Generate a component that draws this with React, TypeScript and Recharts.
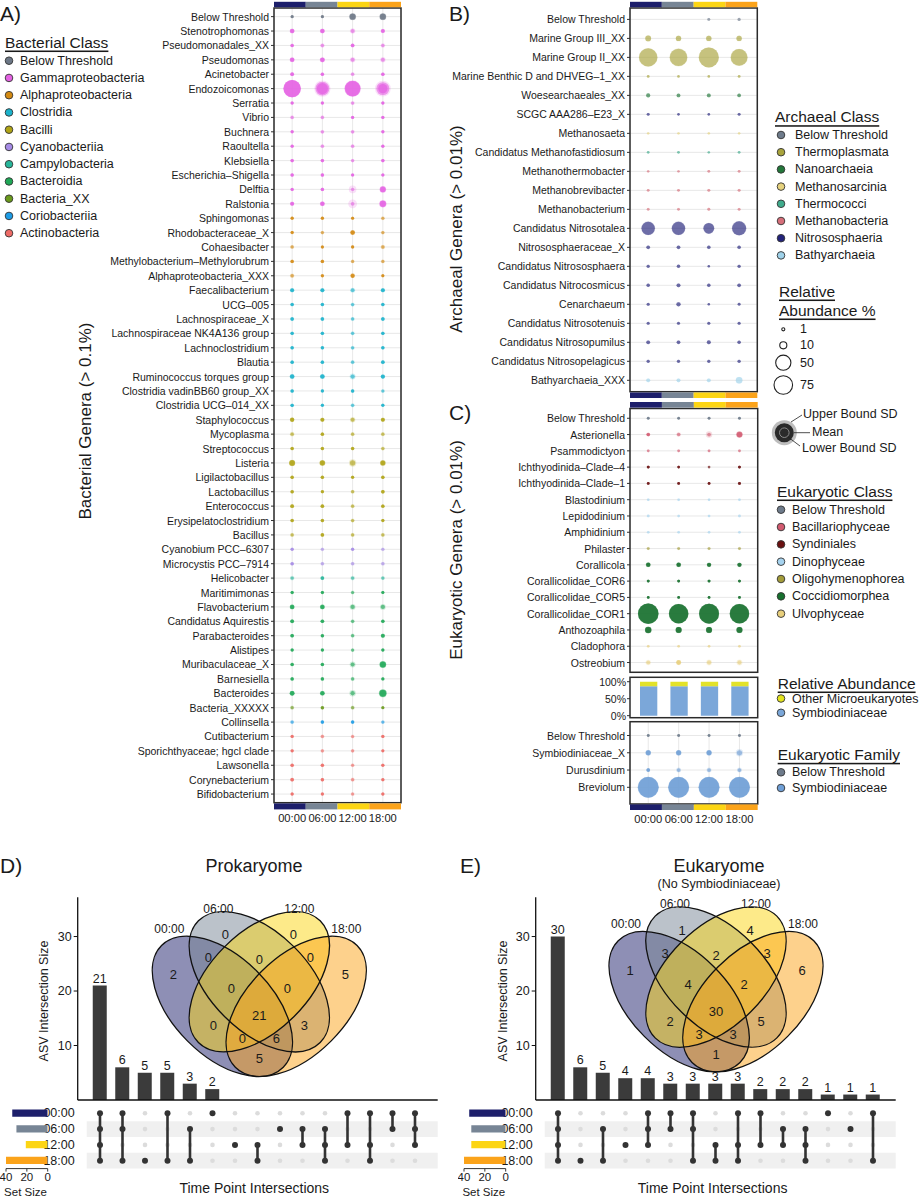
import React from "react";
import {
  ScatterChart, Scatter, XAxis, YAxis, ZAxis, CartesianGrid,
  BarChart, Bar, LabelList, Cell, ReferenceArea,
} from "recharts";

const FONT = "'Liberation Sans', Arial, Helvetica, sans-serif";
const INK = "#1a1a1a";

const TIMES = ["00:00", "06:00", "12:00", "18:00"];
const TIME_COLORS = ["#1d1f6b", "#778595", "#fcd514", "#fba31a"];

// ---- A) bacterial genera, mean and sd of relative abundance per time point
const BAC_GENERA = [
  "Below Threshold", "Stenotrophomonas", "Pseudomonadales_XX", "Pseudomonas", "Acinetobacter",
  "Endozoicomonas", "Serratia", "Vibrio", "Buchnera", "Raoultella", "Klebsiella",
  "Escherichia–Shigella", "Delftia", "Ralstonia", "Sphingomonas", "Rhodobacteraceae_X",
  "Cohaesibacter", "Methylobacterium–Methylorubrum", "Alphaproteobacteria_XXX",
  "Faecalibacterium", "UCG–005", "Lachnospiraceae_X", "Lachnospiraceae NK4A136 group",
  "Lachnoclostridium", "Blautia", "Ruminococcus torques group", "Clostridia vadinBB60 group_XX",
  "Clostridia UCG–014_XX", "Staphylococcus", "Mycoplasma", "Streptococcus", "Listeria",
  "Ligilactobacillus", "Lactobacillus", "Enterococcus", "Erysipelatoclostridium", "Bacillus",
  "Cyanobium PCC–6307", "Microcystis PCC–7914", "Helicobacter", "Maritimimonas",
  "Flavobacterium", "Candidatus Aquirestis", "Parabacteroides", "Alistipes",
  "Muribaculaceae_X", "Barnesiella", "Bacteroides", "Bacteria_XXXXX", "Collinsella",
  "Cutibacterium", "Sporichthyaceae; hgcl clade", "Lawsonella", "Corynebacterium", "Bifidobacterium",
];
const BAC_CLASSES = [
  "Below Threshold", "Gammaproteobacteria", "Alphaproteobacteria", "Clostridia", "Bacilli",
  "Cyanobacteriia", "Campylobacteria", "Bacteroidia", "Bacteria_XX", "Coriobacteriia", "Actinobacteria",
];
const BAC_COLORS = [
  "#6c7786", "#e462e3", "#d48a12", "#1bb3cc", "#b0a415", "#a68be6",
  "#27b69a", "#1fa857", "#6a9a1c", "#1d9ce6", "#ee6b66",
];
const BAC_CLASS_OF = [
  0, 1, 1, 1, 1, 1, 1, 1, 1, 1, 1, 1, 1, 1, 2, 2, 2, 2, 2, 3, 3, 3, 3, 3, 3, 3, 3, 3,
  4, 4, 4, 4, 4, 4, 4, 4, 4, 5, 5, 6, 7, 7, 7, 7, 7, 7, 7, 7, 8, 9, 10, 10, 10, 10, 10,
];
const BAC_MEAN = [
  [1, 1, 8, 8], [3.5, 3.5, 2.5, 2.5], [1.5, 1.5, 2, 1.5], [3.5, 4, 2.5, 2.5], [2, 1.5, 1.2, 1.5],
  [66, 42, 55, 36], [1.2, 1.2, 1.2, 1.2], [1.2, 1.2, 1.2, 1.2], [1.2, 1.2, 1.2, 1.2], [1.2, 1.2, 1.2, 1.2],
  [1.5, 1.5, 1, 1.5], [1.5, 1.5, 1.2, 1.2], [1.2, 1.5, 1.5, 7], [2.5, 3.5, 2, 9], [1.2, 1.2, 1, 1],
  [1.2, 1, 3.5, 1], [1.2, 1, 1.2, 1.5], [1.5, 1.5, 1, 1], [1.5, 1.2, 3, 1], [2.5, 2.5, 2, 2.5],
  [1.5, 1.5, 1.2, 1.5], [1.8, 1.8, 1.2, 1.8], [1.5, 1.5, 1.2, 1.5], [1.5, 1.5, 1.2, 1.5], [1.5, 1.5, 1.2, 1.8],
  [3.5, 3.5, 3, 2.8], [1.5, 1.2, 1.5, 1], [1.5, 1.2, 1.2, 1.2], [3, 2.5, 2.5, 2.5], [1.5, 1.5, 1.2, 1.2],
  [1.5, 1.5, 1.5, 1.2], [6.5, 5.5, 5, 5], [1.5, 1.5, 1.2, 1.5], [1.5, 1.2, 1.2, 1.8], [2, 1.8, 1.2, 1.5],
  [1.5, 1.5, 1.2, 1.2], [1.2, 1.8, 1.2, 1.2], [1.2, 1, 1.2, 1], [1.5, 1.2, 1.2, 1.2], [1.5, 2, 1.5, 1.2],
  [1.2, 1.2, 1, 1], [3.5, 3.5, 3, 3], [2, 1.8, 1.2, 1.5], [1.8, 1.5, 1.2, 2.5], [1.2, 1.2, 1, 1.2],
  [1.5, 1.5, 2.5, 8], [1.5, 1.5, 1.2, 1.2], [4, 3.5, 3, 11], [1.2, 1.5, 1.2, 1], [1.2, 1.5, 1.5, 1],
  [1.2, 1.2, 1, 1.2], [1.2, 1, 1, 1], [1.5, 1.5, 1, 1.2], [1.8, 1.5, 1.2, 1.2], [1.2, 1.2, 1, 1.2],
];
const BAC_SD = [
  [0.3, 0.3, 2, 2], [1, 1, 3, 0.8], [0.5, 2, 0.6, 2], [1, 1.2, 3, 3], [0.6, 0.5, 1.5, 0.5],
  [3, 16, 5, 18], [0.4, 0.4, 1.5, 0.4], [1.5, 1.5, 0.4, 0.4], [0.4, 1.5, 1.5, 0.4], [0.4, 1.5, 1.5, 0.4],
  [0.5, 0.5, 1.2, 0.5], [0.5, 0.5, 0.4, 0.4], [0.4, 0.5, 10, 2], [0.8, 1, 14, 2.5], [0.4, 0.4, 0.4, 1.2],
  [0.4, 1.2, 1, 1.2], [1.5, 0.3, 0.4, 2], [0.5, 0.5, 1.2, 1.2], [2, 0.4, 1, 0.3], [0.8, 0.8, 2.5, 0.8],
  [0.5, 0.5, 1.5, 0.5], [0.5, 0.5, 1.5, 0.5], [0.5, 0.5, 1.5, 0.5], [0.5, 0.5, 1.5, 0.5], [0.5, 0.5, 1.5, 0.5],
  [1, 1, 3.5, 0.8], [0.5, 0.4, 0.5, 1.2], [0.5, 0.4, 1.5, 0.4], [0.8, 0.8, 3, 0.8], [2, 0.5, 1.5, 1.5],
  [0.5, 0.5, 0.5, 1.5], [1.5, 1.5, 6, 1.5], [0.5, 0.5, 0.4, 0.5], [0.5, 0.4, 1.5, 0.5], [0.6, 0.5, 1.5, 0.5],
  [0.5, 0.5, 1.5, 0.4], [1.5, 0.5, 1.5, 1.5], [0.4, 1.2, 0.4, 1.2], [0.5, 1.5, 1.5, 1.5], [2, 0.6, 2, 1.5],
  [0.4, 0.4, 1.2, 0.3], [1, 1, 3.5, 3.5], [0.6, 0.5, 1.5, 0.5], [0.5, 0.5, 1.5, 0.8], [0.4, 0.4, 1.2, 0.4],
  [0.5, 0.5, 4, 2], [0.5, 0.5, 1.5, 0.4], [1, 1, 5, 3], [1.5, 0.5, 1.5, 0.3], [1.5, 0.5, 0.5, 1.2],
  [0.4, 1.5, 1.2, 0.4], [0.4, 1.2, 1.2, 0.3], [0.5, 0.5, 1.2, 0.4], [0.5, 0.5, 1.5, 0.4], [0.4, 0.4, 1.2, 0.4],
];

// ---- B) archaeal genera
const ARC_GENERA = [
  "Below Threshold", "Marine Group III_XX", "Marine Group II_XX", "Marine Benthic D and DHVEG–1_XX",
  "Woesearchaeales_XX", "SCGC AAA286–E23_X", "Methanosaeta", "Candidatus Methanofastidiosum",
  "Methanothermobacter", "Methanobrevibacter", "Methanobacterium", "Candidatus Nitrosotalea",
  "Nitrososphaeraceae_X", "Candidatus Nitrososphaera", "Candidatus Nitrocosmicus", "Cenarchaeum",
  "Candidatus Nitrosotenuis", "Candidatus Nitrosopumilus", "Candidatus Nitrosopelagicus", "Bathyarchaeia_XXX",
];
const ARC_CLASSES = [
  "Below Threshold", "Thermoplasmata", "Nanoarchaeia", "Methanosarcinia",
  "Thermococci", "Methanobacteria", "Nitrososphaeria", "Bathyarchaeia",
];
const ARC_COLORS = ["#6e7b8b", "#a9a43c", "#23773a", "#e6d27e", "#3fab8c", "#d66f7a", "#23237a", "#9fd2ea"];
const ARC_CLASS_OF = [0, 1, 1, 1, 2, 6, 3, 4, 5, 5, 5, 6, 6, 6, 6, 6, 6, 6, 6, 7];
const ARC_MEAN = [
  [0, 0, 0.8, 1], [6, 5, 5, 5], [73, 66, 87, 60], [0.5, 0.3, 0.3, 0.6], [2.5, 2, 2.2, 1.8],
  [0.8, 0.3, 0.3, 0.8], [0.2, 0.2, 0.2, 0.2], [0.5, 0.5, 0.2, 0.5], [0.2, 0.2, 0.6, 0.6], [0.6, 0.6, 0.8, 0.8],
  [0.6, 0.6, 0.8, 0.7], [38, 38, 24, 42], [1.8, 1.8, 1.5, 1.5], [1.2, 1.5, 0.2, 1.2], [1.5, 2.2, 1.5, 1.8],
  [1, 2.8, 0.2, 0.8], [1, 1, 1, 1], [2, 1.8, 2.2, 1.5], [1.2, 1.2, 1.2, 1.2], [2, 2, 2, 8],
];
const ARC_SD = [
  [0, 0, 0.2, 0.2], [1, 1, 1, 1], [5, 6, 4, 6], [0.2, 0.2, 0.2, 0.2], [0.4, 0.4, 0.4, 0.4],
  [0.2, 0.1, 0.1, 0.2], [0.1, 0.1, 0.1, 0.1], [0.1, 0.1, 0.1, 0.1], [0.1, 0.1, 0.2, 0.2], [0.2, 0.2, 0.2, 0.2],
  [0.2, 0.2, 0.2, 0.2], [4, 4, 3, 5], [0.4, 0.4, 0.4, 0.4], [0.3, 0.3, 0.1, 0.3], [0.3, 0.5, 0.3, 0.4],
  [0.3, 0.6, 0.1, 0.2], [0.2, 0.2, 0.2, 0.2], [0.4, 0.4, 0.5, 0.3], [0.3, 0.3, 0.3, 0.3], [1, 1, 1, 2],
];

// ---- C) eukaryotic genera
const EUK_GENERA = [
  "Below Threshold", "Asterionella", "Psammodictyon", "Ichthyodinida–Clade–4", "Ichthyodinida–Clade–1",
  "Blastodinium", "Lepidodinium", "Amphidinium", "Philaster", "Corallicola", "Corallicolidae_COR6",
  "Corallicolidae_COR5", "Corallicolidae_COR1", "Anthozoaphila", "Cladophora", "Ostreobium",
];
const EUK_CLASSES = [
  "Below Threshold", "Bacillariophyceae", "Syndiniales", "Dinophyceae",
  "Oligohymenophorea", "Coccidiomorphea", "Ulvophyceae",
];
const EUK_COLORS = ["#6e7b8b", "#d25a70", "#6a1010", "#a6d3ef", "#a39c3a", "#17702e", "#e8cf7c"];
const EUK_CLASS_OF = [0, 1, 1, 2, 2, 3, 3, 3, 4, 5, 5, 5, 5, 5, 6, 6];
const EUK_MEAN = [
  [0.6, 0.6, 0.6, 0.6], [1.8, 1.5, 2, 7], [0.5, 0.5, 0.5, 0.5], [0.8, 0.5, 0.3, 0.8],
  [0.6, 0.6, 0.6, 0.8], [0.3, 0.3, 0.3, 0.3], [0.5, 0.3, 0.3, 0.5], [0.3, 0.3, 0.3, 0.3],
  [0.6, 0.6, 0.6, 0.6], [3.5, 3.5, 3, 3], [0.8, 0.8, 0.8, 0.8], [0.5, 0.5, 0.5, 0.5],
  [92, 83, 87, 83], [8, 7, 7, 7], [0.3, 0.3, 0.3, 0.3], [2.5, 4, 3, 3],
];
const EUK_SD = [
  [0.2, 0.2, 0.2, 0.2], [0.5, 2, 6, 2], [0.6, 0.6, 0.6, 0.6], [0.2, 0.2, 0.5, 0.2],
  [0.2, 0.2, 0.2, 0.2], [0.5, 0.5, 0.5, 0.5], [0.6, 0.5, 0.5, 0.6], [0.5, 0.5, 0.5, 0.5],
  [0.8, 0.8, 0.8, 0.8], [1, 1, 0.8, 0.8], [0.2, 0.2, 0.2, 0.2], [0.2, 0.2, 0.2, 0.2],
  [3, 3, 3, 3], [1, 1, 1, 1], [0.5, 0.5, 0.5, 0.5], [3, 1, 3.5, 4],
];

const SYMB_PCT = [87, 87, 87, 87];
const OTHER_PCT = [13, 13, 13, 13];

const FAM_GENERA = ["Below Threshold", "Symbiodiniaceae_X", "Durusdinium", "Breviolum"];
const FAM_CLASSES = ["Below Threshold", "Symbiodiniaceae"];
const FAM_COLORS = ["#6e7b8b", "#6f9fd6"];
const FAM_CLASS_OF = [0, 1, 1, 1];
const FAM_MEAN = [[0.6, 0.6, 0.6, 0.6], [5, 5, 5, 5], [2, 2, 2, 2], [95, 95, 95, 95]];
const FAM_SD = [[0.2, 0.2, 0.2, 0.2], [1, 1, 1, 6], [0.5, 2.5, 2.5, 2.5], [4, 4, 4, 4]];

const SIZE_LEGEND = [1, 10, 50, 75];

// ---- D/E) upset + venn
const PROK_SETS = [[0, 1, 2, 3], [0, 1, 3], [3], [0, 3], [1, 3], [0], [2], [2, 3], [1], [1, 2], [1, 2, 3], [0, 2], [0, 2, 3], [0, 1], [0, 1, 2]];
const PROK_SIZES = [21, 6, 5, 5, 3, 2, 0, 0, 0, 0, 0, 0, 0, 0, 0];
const PROK_SET_SIZE = [34, 30, 21, 40];
const EUK_SETS = [[0, 1, 2, 3], [3], [1, 3], [2], [0, 1, 2], [0, 1], [0, 1, 3], [2, 3], [0, 2, 3], [0, 2], [1, 2], [1, 2, 3], [0], [1], [0, 3]];
const EUK_SIZES = [30, 6, 5, 4, 4, 3, 3, 3, 3, 2, 2, 2, 1, 1, 1];
const EUK_SET_SIZE = [35, 33, 33, 40];

// regions: A B C D AB BC CD ABC BCD AC BD ABCD ACD ABD AD
const PROK_VENN = [2, 0, 0, 5, 0, 0, 0, 0, 0, 0, 3, 21, 0, 6, 5];
const EUK_VENN = [1, 1, 4, 6, 3, 2, 3, 4, 2, 2, 5, 30, 3, 3, 1];
const VENN_POS = [
  [-86, -7], [-34, -47], [34, -47], [86, -7], [-51, -24], [0, -22], [51, -24],
  [-28, 7], [28, 7], [-46, 44], [45, 44], [0, 34], [-17, 57], [17, 57], [0, 77],
];
const VENN_LABEL_POS = [[-90, -53], [-41, -73], [40, -73], [87, -53]];

const Z_RANGE: [number, number] = [4, 360];

function dotShape(opacity: number) {
  return (p: any) => {
    const r = p.size != null ? Math.sqrt(Math.max(p.size, 0) / Math.PI) : (p.width || 0) / 2;
    const color = (p.payload && p.payload.color) || p.color;
    return <circle cx={p.cx} cy={p.cy} r={r} fill={color} fillOpacity={opacity} />;
  };
}

function labelTick(labels: (v: number) => string, fontSize: number, anchor: string) {
  return (p: any) => (
    <text x={p.x} y={p.y} textAnchor={anchor} dominantBaseline="central" fontSize={fontSize} fill={INK}>
      {labels(p.payload.value)}
    </text>
  );
}

function BubblePanel(props: any) {
  const { left, top, width, height, margin, yWidth, names, means, sds, classOf, colors,
    yDomain, meanOp, lowerOp, xHeight, showTimes } = props;
  const upper: any[] = [];
  const mid: any[] = [];
  const lower: any[] = [];
  names.forEach((_: string, i: number) =>
    means[i].forEach((m: number, j: number) => {
      if (m <= 0) return;
      const color = colors[classOf[i]];
      const sd = sds[i][j];
      upper.push({ x: j + 1, y: i + 1, z: m + sd, color });
      mid.push({ x: j + 1, y: i + 1, z: m, color });
      if (lowerOp > 0 && m - sd > 0) lower.push({ x: j + 1, y: i + 1, z: m - sd, color });
    }),
  );
  const timeTick = (p: any) => (
    <text x={p.x} y={p.y + 6} textAnchor="middle" dominantBaseline="central" fontSize={11.2} fill={INK}>
      {TIMES[p.payload.value - 1]}
    </text>
  );
  return (
    <div style={{ position: "absolute", left, top }}>
      <ScatterChart width={width} height={height} margin={margin}>
        <CartesianGrid stroke="#e5e5e5" strokeWidth={0.9} />
        <XAxis type="number" dataKey="x" domain={[0.4, 4.6]} ticks={[1, 2, 3, 4]} allowDataOverflow
          interval={0} height={xHeight} axisLine={false} tickLine={false} tickSize={0} tickMargin={9}
          tick={showTimes ? timeTick : false} />
        <YAxis type="number" dataKey="y" domain={yDomain} reversed allowDataOverflow interval={0}
          ticks={names.map((_: string, i: number) => i + 1)}
          width={yWidth} axisLine={false} tickSize={3} tickMargin={2} tickLine={{ stroke: "#333" }}
          tick={labelTick((v) => names[v - 1], 10.5, "end")} />
        <ZAxis type="number" dataKey="z" domain={[0, 100]} range={Z_RANGE} />
        <Scatter data={upper} shape={dotShape(0.2)} isAnimationActive={false} />
        <Scatter data={mid} shape={dotShape(meanOp)} isAnimationActive={false} />
        {lower.length > 0 && <Scatter data={lower} shape={dotShape(lowerOp)} isAnimationActive={false} />}
      </ScatterChart>
    </div>
  );
}

function Upset({ dx, sets, sizes, setSizes }: any) {
  const bars = sizes.map((v: number, i: number) => ({ name: "c" + i, v }));
  const bg: any[] = [];
  sets.forEach((_: number[], i: number) => TIMES.forEach((__, s) => bg.push({ x: i, y: s })));
  const cols = sets.map((ss: number[], i: number) => ss.map((s) => ({ x: i, y: s })));
  const setBars = TIMES.map((t, i) => ({ name: t, v: setSizes[i] }));
  return (
    <>
      <div style={{ position: "absolute", left: 30 + dx, top: 890 }}>
        <BarChart width={410} height={212} data={bars} margin={{ top: 7.3, right: 2.3, left: 0, bottom: 0 }}>
          <XAxis dataKey="name" type="category" tick={false} tickLine={false} height={2}
            axisLine={{ stroke: "#111", strokeWidth: 1.3 }} padding={{ left: 11.05, right: 11.45 }} />
          <YAxis type="number" domain={[0, 37.2]} ticks={[0, 10, 20, 30]} allowDataOverflow width={47.7}
            tickSize={4} tickMargin={2} axisLine={{ stroke: "#111", strokeWidth: 1.3 }}
            tickLine={{ stroke: "#111" }} tick={{ fontSize: 12.5, fill: INK }} />
          <Bar dataKey="v" fill="#3b3b3b" barSize={14} isAnimationActive={false}>
            <LabelList dataKey="v" position="top" offset={3} fontSize={12.5} fill={INK} />
          </Bar>
        </BarChart>
      </div>
      <div style={{ position: "absolute", left: 30 + dx, top: 1101 }}>
        <ScatterChart width={410} height={70} margin={{ top: 4.4, right: 2.3, bottom: 2.4, left: 0 }}>
          <XAxis type="number" dataKey="x" domain={[-0.591, 15.009]} allowDataOverflow hide />
          <YAxis type="number" dataKey="y" domain={[-0.5, 3.5]} reversed allowDataOverflow
            ticks={[0, 1, 2, 3]} interval={0} width={56.7} axisLine={false} tickLine={false}
            tickMargin={6} tick={labelTick((v) => TIMES[v], 12.5, "end")} />
          <ReferenceArea x1={-0.591} x2={15.009} y1={0.5} y2={1.5} fill="#f0f0f0" fillOpacity={1}
            stroke="none" ifOverflow="visible" />
          <ReferenceArea x1={-0.591} x2={15.009} y1={2.5} y2={3.5} fill="#f0f0f0" fillOpacity={1}
            stroke="none" ifOverflow="visible" />
          <Scatter data={bg} isAnimationActive={false}
            shape={(p: any) => <circle cx={p.cx} cy={p.cy} r={2.3} fill="#dcdcdc" />} />
          {cols.map((d: any[], i: number) => (
            <Scatter key={i} data={d} isAnimationActive={false} line={{ stroke: "#333", strokeWidth: 2.6 }}
              shape={(p: any) => <circle cx={p.cx} cy={p.cy} r={3} fill="#333" />} />
          ))}
        </ScatterChart>
      </div>
      <div style={{ position: "absolute", left: dx, top: 1101 }}>
        <BarChart layout="vertical" width={56} height={81.6} data={setBars}
          margin={{ top: 4.4, right: 8.3, left: 6, bottom: 0 }}>
          <XAxis type="number" domain={[0, 40]} reversed ticks={[0, 20, 40]} allowDataOverflow height={14}
            interval={0} tickSize={3} tickMargin={1} axisLine={{ stroke: "#333" }} tickLine={{ stroke: "#333" }}
            tick={{ fontSize: 11.5, fill: INK }} />
          <YAxis type="category" dataKey="name" hide />
          <Bar dataKey="v" barSize={7.3} isAnimationActive={false}>
            {setBars.map((_, i) => <Cell key={i} fill={TIME_COLORS[i]} />)}
          </Bar>
        </BarChart>
      </div>
    </>
  );
}

function Legend({ x, y, title, items, colors, cx, tx, step = 17.25, y0 }: any) {
  return (
    <g>
      <text x={x} y={y} fontSize={15.5} dominantBaseline="central" textDecoration="underline" fill={INK}>{title}</text>
      {items.map((it: string, i: number) => (
        <g key={it}>
          <circle cx={cx} cy={y0 + i * step} r={3.8} fill={colors[i]} stroke="#333" strokeWidth={0.9} />
          <text x={tx} y={y0 + i * step} fontSize={12.5} dominantBaseline="central" fill={INK}>{it}</text>
        </g>
      ))}
    </g>
  );
}

function Venn({ mid, yB, counts, S = 246 }: any) {
  const a = 0.35 * S;
  const b = 0.2 * S;
  const ells = [
    { cx: mid - 0.15 * S, cy: yB + 0.1 * S, rot: 45 },
    { cx: mid, cy: yB, rot: 45 },
    { cx: mid, cy: yB, rot: -45 },
    { cx: mid + 0.15 * S, cy: yB + 0.1 * S, rot: -45 },
  ];
  return (
    <g>
      {ells.map((e, i) => (
        <ellipse key={"f" + i} cx={e.cx} cy={e.cy} rx={a} ry={b} transform={`rotate(${e.rot} ${e.cx} ${e.cy})`}
          fill={TIME_COLORS[i]} fillOpacity={0.5} stroke="none" />
      ))}
      {ells.map((e, i) => (
        <ellipse key={"s" + i} cx={e.cx} cy={e.cy} rx={a} ry={b} transform={`rotate(${e.rot} ${e.cx} ${e.cy})`}
          fill="none" stroke="#111" strokeWidth={1.3} />
      ))}
      {counts.map((c: number, i: number) => (
        <text key={"n" + i} x={mid + VENN_POS[i][0]} y={yB + VENN_POS[i][1]} fontSize={13}
          textAnchor="middle" dominantBaseline="central" fill={INK}>{c}</text>
      ))}
      {TIMES.map((t, i) => (
        <text key={t} x={mid + VENN_LABEL_POS[i][0]} y={yB + VENN_LABEL_POS[i][1]} fontSize={12}
          textAnchor="middle" dominantBaseline="central" fill={INK}>{t}</text>
      ))}
    </g>
  );
}

function TimeBar({ x, y, w, h }: any) {
  return (
    <g>
      {TIME_COLORS.map((c, i) => (
        <rect key={c} x={x + (i * w) / 4} y={y} width={w / 4} height={h} fill={c} />
      ))}
    </g>
  );
}

function zRadius(v: number) {
  return Math.sqrt((Z_RANGE[0] + ((Z_RANGE[1] - Z_RANGE[0]) * v) / 100) / Math.PI);
}

export default function App() {
  const boxes = [
    [274, 8, 127, 794.7],
    [630, 8, 127.3, 383.7],
    [630, 408.5, 127.7, 263.8],
    [630, 677.3, 127.7, 40.4],
    [630, 721.7, 127.7, 82.3],
  ];
  const stackData = TIMES.map((t, i) => ({ t, symb: SYMB_PCT[i], other: OTHER_PCT[i] }));
  const sizeY = [329.3, 345.3, 362.7, 385];
  return (
    <div style={{ position: "absolute", left: 0, top: 0, width: 921, height: 1200, background: "#fff",
      fontFamily: FONT, overflow: "hidden" }}>
      <BubblePanel left={0} top={0} width={410} height={830}
        margin={{ top: 8, right: 9, left: 0, bottom: 0 }} yWidth={274} xHeight={27.3} showTimes
        names={BAC_GENERA} means={BAC_MEAN} sds={BAC_SD} classOf={BAC_CLASS_OF} colors={BAC_COLORS}
        yDomain={[0.4, 55.6]} meanOp={0.6} lowerOp={0.75} />
      <BubblePanel left={440} top={0} width={330} height={400}
        margin={{ top: 8, right: 12.7, left: 0, bottom: 8.3 }} yWidth={190} xHeight={0}
        names={ARC_GENERA} means={ARC_MEAN} sds={ARC_SD} classOf={ARC_CLASS_OF} colors={ARC_COLORS}
        yDomain={[0.4, 20.6]} meanOp={0.58} lowerOp={0} />
      <BubblePanel left={440} top={400} width={330} height={280}
        margin={{ top: 8.5, right: 12.3, left: 0, bottom: 7.7 }} yWidth={190} xHeight={0}
        names={EUK_GENERA} means={EUK_MEAN} sds={EUK_SD} classOf={EUK_CLASS_OF} colors={EUK_COLORS}
        yDomain={[0.4, 16.6]} meanOp={0.6} lowerOp={0.75} />
      <div style={{ position: "absolute", left: 440, top: 670 }}>
        <BarChart width={330} height={53} data={stackData} margin={{ top: 7.3, right: 12.3, left: 0, bottom: 5.3 }}>
          <XAxis dataKey="t" type="category" hide padding={{ left: 3, right: 3 }} />
          <YAxis type="number" domain={[-6, 113]} ticks={[0, 50, 100]} allowDataOverflow width={190}
            interval={0} axisLine={false} tickSize={3} tickMargin={1} tickLine={{ stroke: "#333" }}
            tick={labelTick((v) => v + "%", 10.5, "end")} />
          <Bar dataKey="symb" stackId="a" fill="#7ba7d9" barSize={17.3} isAnimationActive={false} />
          <Bar dataKey="other" stackId="a" fill="#e2e22a" barSize={17.3} isAnimationActive={false} />
        </BarChart>
      </div>
      <BubblePanel left={440} top={715} width={330} height={116}
        margin={{ top: 6.7, right: 12.3, left: 0, bottom: 0 }} yWidth={190} xHeight={27.3} showTimes
        names={FAM_GENERA} means={FAM_MEAN} sds={FAM_SD} classOf={FAM_CLASS_OF} colors={FAM_COLORS}
        yDomain={[0.2, 4.95]} meanOp={0.6} lowerOp={0.75} />

      <Upset dx={0} sets={PROK_SETS} sizes={PROK_SIZES} setSizes={PROK_SET_SIZE} />
      <Upset dx={458.3} sets={EUK_SETS} sizes={EUK_SIZES} setSizes={EUK_SET_SIZE} />

      <svg width={921} height={1200} style={{ position: "absolute", left: 0, top: 0, pointerEvents: "none" }}
        fontFamily={FONT}>
        {boxes.map((b, i) => (
          <rect key={i} x={b[0]} y={b[1]} width={b[2]} height={b[3]} fill="none" stroke="#2b2b2b" strokeWidth={1.5} />
        ))}
        <TimeBar x={274} y={1.8} w={127} h={5.4} />
        <TimeBar x={274} y={803.4} w={127} h={6} />
        <TimeBar x={630} y={1.8} w={127.3} h={5.4} />
        <TimeBar x={630} y={392.5} w={127.3} h={5.5} />
        <TimeBar x={630} y={402} w={127.7} h={5.6} />
        <TimeBar x={630} y={804.4} w={127.7} h={5.6} />

        <text x={0} y={13} fontSize={21} dominantBaseline="central" fill={INK}>A)</text>
        <text x={449} y={13} fontSize={21} dominantBaseline="central" fill={INK}>B)</text>
        <text x={449} y={412} fontSize={21} dominantBaseline="central" fill={INK}>C)</text>
        <text x={0} y={865} fontSize={21} dominantBaseline="central" fill={INK}>D)</text>
        <text x={460} y={865} fontSize={21} dominantBaseline="central" fill={INK}>E)</text>

        <text transform="translate(85 421) rotate(-90)" fontSize={17} textAnchor="middle" dominantBaseline="central" fill={INK}>Bacterial Genera (&gt; 0.1%)</text>
        <text transform="translate(456 229) rotate(-90)" fontSize={17} textAnchor="middle" dominantBaseline="central" fill={INK}>Archaeal Genera (&gt; 0.01%)</text>
        <text transform="translate(456 550) rotate(-90)" fontSize={17} textAnchor="middle" dominantBaseline="central" fill={INK}>Eukaryotic Genera (&gt; 0.01%)</text>

        <Legend x={5} y={42} title="Bacterial Class" items={BAC_CLASSES} colors={BAC_COLORS} cx={9} tx={20} y0={60.7} step={17.25} />
        <Legend x={775} y={116.7} title="Archaeal Class" items={ARC_CLASSES} colors={ARC_COLORS} cx={781} tx={795} y0={135} step={17.2} />
        <Legend x={777} y={491} title="Eukaryotic Class" items={EUK_CLASSES} colors={EUK_COLORS} cx={781} tx={792} y0={509.7} step={17.33} />
        <Legend x={777.7} y={683} title="Relative Abundance" items={["Other Microeukaryotes", "Symbiodiniaceae"]}
          colors={["#e3e31e", "#7ba7d9"]} cx={781} tx={792} y0={698.5} step={14.3} />
        <Legend x={777.7} y={754.3} title="Eukaryotic Family" items={FAM_CLASSES} colors={FAM_COLORS} cx={781} tx={792} y0={772.3} step={15.7} />

        <text x={779} y={291} fontSize={15.5} dominantBaseline="central" textDecoration="underline" fill={INK}>Relative </text>
        <text x={779} y={310} fontSize={15.5} dominantBaseline="central" textDecoration="underline" fill={INK}>Abundance %</text>
        {SIZE_LEGEND.map((v, i) => (
          <g key={v}>
            <circle cx={783.3} cy={sizeY[i]} r={zRadius(v)} fill="#fff" stroke="#222" strokeWidth={1.1} />
            <text x={800} y={sizeY[i]} fontSize={12.5} dominantBaseline="central" fill={INK}>{v}</text>
          </g>
        ))}

        <circle cx={784.3} cy={432.7} r={12.5} fill="#bdbdbd" />
        <circle cx={784.3} cy={432.7} r={9.5} fill="#2a2a2a" />
        <circle cx={784.3} cy={432.7} r={4.8} fill="none" stroke="#8a8a8a" strokeWidth={1} />
        <line x1={791} y1={422} x2={802} y2={415} stroke="#222" strokeWidth={0.8} />
        <line x1={794} y1={432.7} x2={810} y2={432.7} stroke="#222" strokeWidth={0.8} />
        <line x1={788} y1={437} x2={800} y2={446} stroke="#222" strokeWidth={0.8} />
        <text x={803} y={414} fontSize={12.5} dominantBaseline="central" fill={INK}>Upper Bound SD</text>
        <text x={812} y={432.3} fontSize={12.5} dominantBaseline="central" fill={INK}>Mean</text>
        <text x={802} y={448} fontSize={12.5} dominantBaseline="central" fill={INK}>Lower Bound SD</text>

        <text x={254} y={866} fontSize={18} textAnchor="middle" dominantBaseline="central" fill={INK}>Prokaryome</text>
        <text x={719} y={866} fontSize={18} textAnchor="middle" dominantBaseline="central" fill={INK}>Eukaryome</text>
        <text x={719} y={884.3} fontSize={12.5} textAnchor="middle" dominantBaseline="central" fill={INK}>(No Symbiodiniaceae)</text>
        <Venn mid={259.3} yB={981.7} counts={PROK_VENN} />
        <Venn mid={716} yB={977} counts={EUK_VENN} />

        {[0, 458.3].map((dx) => (
          <g key={dx}>
            <text transform={`translate(${44.3 + dx} 1001) rotate(-90)`} fontSize={12.5} textAnchor="middle"
              dominantBaseline="central" fill={INK}>ASV Intersection Size</text>
            <text x={254.3 + dx} y={1187.7} fontSize={14} textAnchor="middle" dominantBaseline="central" fill={INK}>Time Point Intersections</text>
            <text x={25.5 + dx} y={1191.7} fontSize={11.5} textAnchor="middle" dominantBaseline="central" fill={INK}>Set Size</text>
          </g>
        ))}
      </svg>
    </div>
  );
}
